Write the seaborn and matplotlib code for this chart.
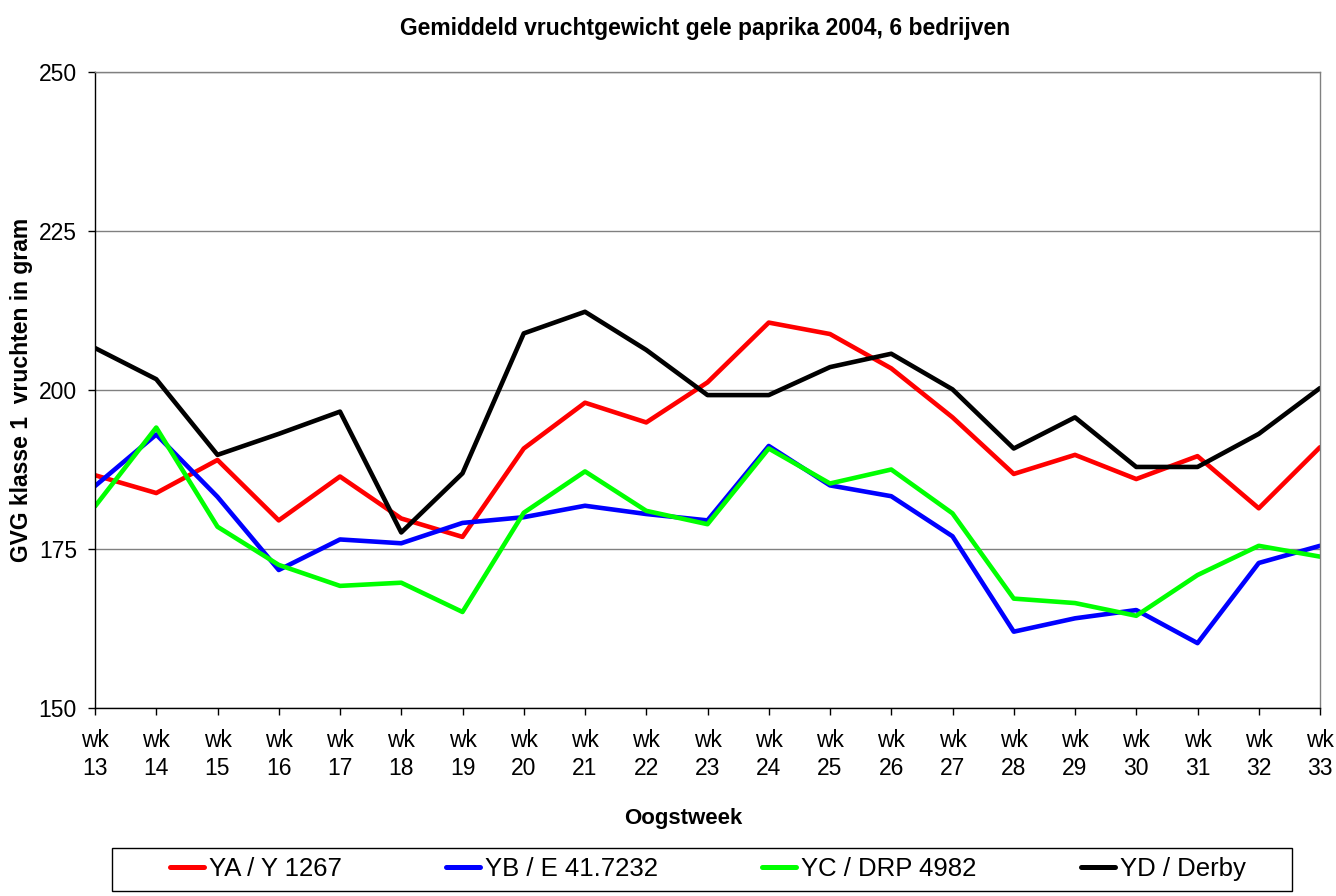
import numpy as np
import pandas as pd
import seaborn as sns
import matplotlib.pyplot as plt
from matplotlib.patches import Rectangle

# weken en gemiddeld vruchtgewicht per ras (gram)
weeks = list(range(13, 34))
week_labels = [f'wk\n{w}' for w in weeks]

ya = [186.6, 183.8, 189.0, 179.5, 186.4, 179.8, 176.9, 190.8, 198.0, 194.9, 201.2,
      210.6, 208.8, 203.4, 195.7, 186.8, 189.8, 186.0, 189.6, 181.4, 191.0]
yb = [184.9, 193.0, 183.2, 171.7, 176.5, 175.9, 179.1, 180.0, 181.8, 180.5, 179.5,
      191.2, 185.0, 183.3, 177.0, 162.0, 164.1, 165.4, 160.2, 172.8, 175.5]
yc = [181.7, 194.1, 178.5, 172.5, 169.2, 169.7, 165.1, 180.7, 187.2, 181.0, 178.9,
      190.8, 185.3, 187.5, 180.6, 167.2, 166.5, 164.5, 170.9, 175.5, 173.8]
yd = [206.6, 201.7, 189.8, 193.1, 196.6, 177.6, 186.9, 208.9, 212.3, 206.3, 199.2,
      199.2, 203.6, 205.7, 200.1, 190.8, 195.7, 187.9, 187.9, 193.1, 200.3]

series_names = ['YA / Y 1267', 'YB / E 41.7232', 'YC / DRP 4982', 'YD / Derby']
series_colors = ['#FF0000', '#0000FF', '#00FF00', '#000000']

frames = []
for name, vals in zip(series_names, [ya, yb, yc, yd]):
    frames.append(pd.DataFrame({'Week': weeks, 'Gewicht': vals, 'Ras': name}))
df = pd.concat(frames, ignore_index=True)

sns.set_style('white')
plt.rcParams['font.family'] = ['Liberation Sans', 'DejaVu Sans']
plt.rcParams['text.color'] = 'black'
plt.rcParams['axes.labelcolor'] = 'black'
plt.rcParams['xtick.color'] = 'black'
plt.rcParams['ytick.color'] = 'black'

W, H = 1336, 896
fig = plt.figure(figsize=(W / 100, H / 100), dpi=100)
ax = fig.add_axes([95 / W, 1 - 708 / H, 1225 / W, 636 / H])

sns.lineplot(data=df, x='Week', y='Gewicht', hue='Ras', hue_order=series_names,
             palette=dict(zip(series_names, series_colors)), linewidth=3.3,
             ax=ax, legend=False)

ax.set_xlim(13, 33)
ax.set_ylim(150, 250)
ax.set_yticks([150, 175, 200, 225, 250])
ax.set_xticks(weeks)
ax.set_xticklabels(week_labels, linespacing=1.3)
ax.tick_params(axis='both', labelsize=16.5, length=5, width=1, direction='out',
               bottom=True, left=True, color='black', labelcolor='black')
ax.tick_params(axis='x', pad=10)
ax.tick_params(axis='y', pad=8)
ax.yaxis.grid(True, color='#808080', linewidth=1)
ax.set_axisbelow(True)

for side in ['left', 'bottom']:
    ax.spines[side].set_color('black')
    ax.spines[side].set_linewidth(1)
for side in ['top', 'right']:
    ax.spines[side].set_color('#808080')
    ax.spines[side].set_linewidth(1)

ax.set_xlabel('Oogstweek', fontsize=16, fontweight='bold')
ax.xaxis.set_label_coords((683 - 95) / 1225, -(808 - 708) / 636)
ax.set_ylabel('GVG klasse 1  vruchten in gram', fontsize=16.5, fontweight='bold')
ax.yaxis.set_label_coords(-(95 - 33) / 1225, 0.5)
fig.text(705 / W, 1 - 28 / H, 'Gemiddeld vruchtgewicht gele paprika 2004, 6 bedrijven',
         ha='center', va='center', fontsize=16.5, fontweight='bold')

# legendakader
fig.patches.append(Rectangle((112 / W, 1 - 891 / H), (1292 - 112) / W, 43 / H,
                             transform=fig.transFigure, fill=False,
                             edgecolor='black', linewidth=1))

handles = [plt.Line2D([], [], color=c, linewidth=3.6, solid_capstyle='round')
           for c in series_colors]
leg = fig.legend(handles, series_names, loc='center left', ncol=4,
                 bbox_to_anchor=(170 / W, 1 - 869 / H),
                 fontsize=18.5, frameon=False, handlelength=1.32,
                 handletextpad=0.2, columnspacing=4.05, borderpad=0,
                 borderaxespad=0)

fig.savefig('out.png', dpi=100)
